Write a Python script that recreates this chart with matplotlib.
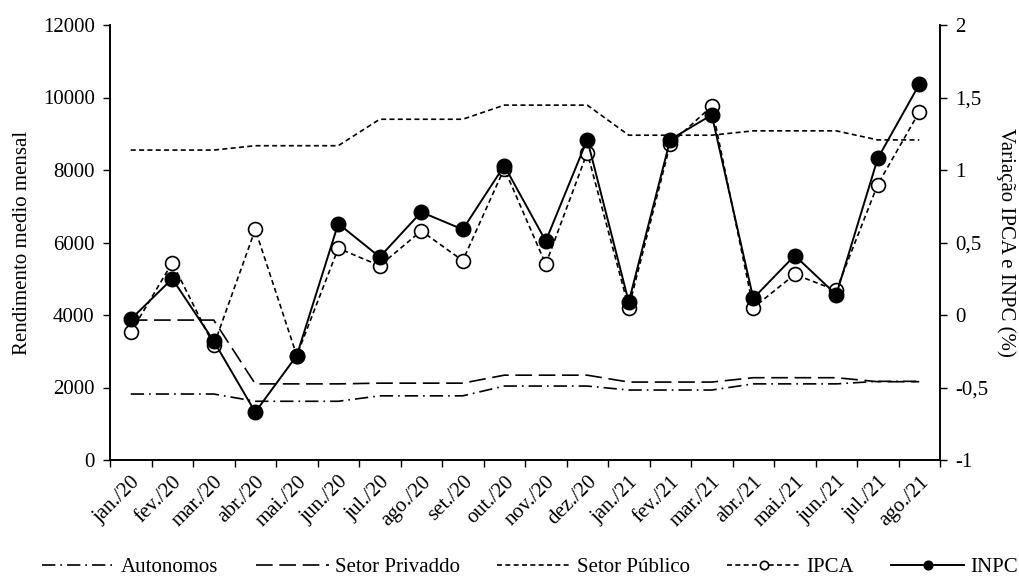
import numpy as np
import matplotlib
matplotlib.use('Agg')
from matplotlib import pyplot as plt

# data
meses = ['jan./20', 'fev./20', 'mar./20', 'abr./20', 'mai./20', 'jun./20',
         'jul./20', 'ago./20', 'set./20', 'out./20', 'nov./20', 'dez./20',
         'jan./21', 'fev./21', 'mar./21', 'abr./21', 'mai./21', 'jun./21',
         'jul./21', 'ago./21']
autonomos = [1820, 1820, 1820, 1620, 1620, 1620, 1770, 1770, 1770, 2040,
             2040, 2040, 1930, 1930, 1930, 2100, 2100, 2100, 2170, 2170]
setor_privado = [3860, 3860, 3860, 2100, 2100, 2100, 2120, 2120, 2120, 2340,
                 2340, 2340, 2150, 2150, 2150, 2270, 2270, 2270, 2160, 2160]
setor_publico = [8550, 8550, 8550, 8670, 8670, 8670, 9400, 9400, 9400, 9790,
                 9790, 9790, 8960, 8960, 8960, 9080, 9080, 9080, 8830, 8830]
ipca = [-0.12, 0.36, -0.21, 0.59, -0.28, 0.46, 0.34, 0.58, 0.375, 1.01,
        0.35, 1.12, 0.05, 1.18, 1.44, 0.05, 0.28, 0.17, 0.90, 1.40]
inpc = [-0.03, 0.25, -0.18, -0.67, -0.28, 0.63, 0.40, 0.71, 0.59, 1.03,
        0.51, 1.21, 0.09, 1.21, 1.38, 0.115, 0.41, 0.14, 1.08, 1.59]

plt.rcParams['font.family'] = ['Liberation Serif', 'DejaVu Serif']
plt.rcParams['font.size'] = 15

fig = plt.figure(figsize=(10.2, 5.83), dpi=100)
ax = fig.add_axes([110/1020, 1-460/583, 830/1020, 435/583])
ax2 = ax.twinx()

x = np.arange(len(meses))
lw = 1.2
l1, = ax.plot(x, autonomos, color='black', lw=lw, ls=(0, (8, 3, 1, 3)), label='Autonomos')
l2, = ax.plot(x, setor_privado, color='black', lw=lw, ls=(0, (10, 4)), label='Setor Privaddo')
l3, = ax.plot(x, setor_publico, color='black', lw=lw, ls=(0, (3, 2)), label='Setor Público')
l4, = ax2.plot(x, ipca, color='black', lw=lw, ls=(0, (3, 2)), marker='o', ms=10,
               mfc='white', mec='black', mew=1.2, label='IPCA')
l5, = ax2.plot(x, inpc, color='black', lw=1.4, marker='o', ms=10.5,
               mfc='black', mec='black', label='INPC')

ax.set_xlim(-0.5, len(meses) - 0.5)
ax.set_ylim(0, 12000)
ax.set_yticks(np.arange(0, 12001, 2000))
ax2.set_ylim(-1, 2)
ax2.set_yticks(np.arange(-1, 2.01, 0.5))
ax2.set_yticklabels([('%g' % v).replace('.', ',') for v in np.arange(-1, 2.01, 0.5)])

ax.set_xticks(x)
ax.set_xticklabels(meses, rotation=45, ha='right', rotation_mode='anchor')
ax.set_xticks(np.arange(-0.5, len(meses)), minor=True)
ax.tick_params(axis='x', which='major', length=0, pad=9)
ax.tick_params(axis='x', which='minor', length=5, width=1, direction='out')
ax.tick_params(axis='y', length=5, width=1, direction='out', pad=6)
ax2.tick_params(axis='y', length=5, width=1, direction='out', pad=6)

for a in (ax, ax2):
    a.spines['top'].set_visible(False)
    for s in ('left', 'right', 'bottom'):
        a.spines[s].set_linewidth(1.2)

ax.set_ylabel('Rendimento medio mensal', fontsize=15, labelpad=8)
ax2.set_ylabel('Variação IPCA e INPC (%)', fontsize=15, rotation=270, labelpad=20)

fig.legend(handles=[l1, l2, l3, l4, l5], loc='center', ncol=5,
           bbox_to_anchor=(530/1020, 1-567/583), frameon=False, handlelength=3.5,
           columnspacing=1.8, markerscale=0.6, fontsize=15, handletextpad=0.3,
           borderaxespad=0, borderpad=0)

fig.savefig('out.png', dpi=100)
